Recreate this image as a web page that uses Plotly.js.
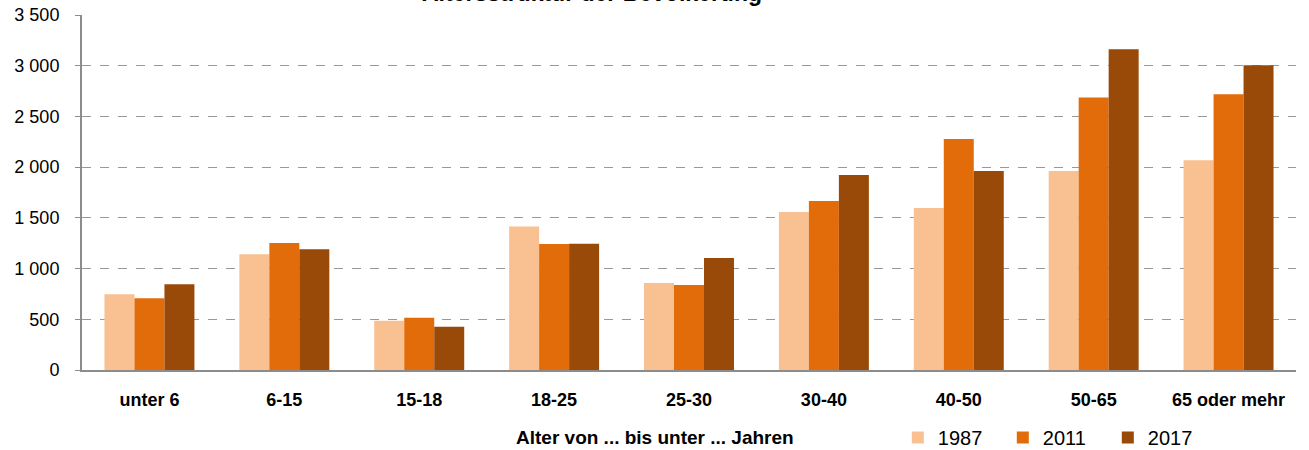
<!DOCTYPE html>
<html>
<head>
<meta charset="utf-8">
<script src="https://cdn.plot.ly/plotly-3.0.1.min.js"></script>
<style>html,body{margin:0;padding:0;background:#fff;}#chart{width:1309px;height:450px;}</style>
</head>
<body>
<div id="chart"></div>
<script>
var categories = ["unter 6", "6-15", "15-18", "18-25", "25-30", "30-40", "40-50", "50-65", "65 oder mehr"];
var years = ["1987", "2011", "2017"];
var values1987 = [746, 1141, 486, 1415, 858, 1558, 1598, 1962, 2068];
var values2011 = [707, 1252, 516, 1243, 838, 1667, 2278, 2686, 2719];
var values2017 = [845, 1190, 427, 1245, 1105, 1923, 1962, 3163, 3005];
var yTicks = [0, 500, 1000, 1500, 2000, 2500, 3000, 3500];
var colors = ["#F9C191", "#E36C0A", "#994908"];

var font = "Liberation Sans, Arial, sans-serif";
var series = [values1987, values2011, values2017];
var data = series.map(function (v, i) {
  return {
    type: "bar",
    name: years[i],
    x: categories,
    y: v,
    marker: {color: colors[i], line: {width: 0}},
    hoverinfo: "x+y+name"
  };
});

var layout = {
  width: 1309,
  height: 450,
  margin: {l: 82, r: 13, t: 15, b: 80, autoexpand: false},
  paper_bgcolor: "#fff",
  plot_bgcolor: "#fff",
  separators: ", ",
  barmode: "group",
  bargap: 0.333,
  bargroupgap: 0,
  font: {family: font, color: "#000"},
  title: {
    text: "<b>Altersstruktur der Bevölkerung</b>",
    font: {family: font, size: 23, color: "#000"},
    x: 592 / 1309,
    xanchor: "center",
    xref: "container",
    yref: "paper",
    y: 1,
    yanchor: "bottom",
    pad: {b: 14}
  },
  xaxis: {
    type: "category",
    showline: true,
    linecolor: "#8C8C8C",
    linewidth: 2,
    ticks: "",
    tickfont: {family: font, size: 18, color: "#000", weight: "bold"},
    ticklabelstandoff: 12,
    showgrid: false,
    zeroline: false,
    fixedrange: true
  },
  yaxis: {
    range: [0, 3500],
    tickvals: yTicks,
    tickformat: ",d",
    showline: true,
    linecolor: "#8C8C8C",
    linewidth: 2,
    ticks: "outside",
    ticklen: 5,
    tickcolor: "#8C8C8C",
    tickwidth: 1,
    tickfont: {family: font, size: 18, color: "#000"},
    ticklabelstandoff: 12,
    showgrid: true,
    gridcolor: "#999999",
    griddash: "dash",
    gridwidth: 1,
    zeroline: false,
    fixedrange: true
  },
  legend: {
    orientation: "h",
    x: 0.672,
    xanchor: "left",
    y: -0.19,
    yanchor: "middle",
    font: {family: font, size: 20, color: "#000"},
    entrywidth: 60,
    entrywidthmode: "pixels",
    itemwidth: 30,
    bgcolor: "rgba(0,0,0,0)",
    traceorder: "normal"
  },
  annotations: [{
    text: "<b>Alter von ... bis unter ... Jahren</b>",
    xref: "paper",
    yref: "paper",
    x: (655 - 82) / 1214,
    y: (370 - 437) / 355,
    xanchor: "center",
    yanchor: "middle",
    showarrow: false,
    font: {family: font, size: 19, color: "#000"}
  }],
  showlegend: true
};

Plotly.newPlot("chart", data, layout, {displayModeBar: false, staticPlot: true});
</script>
</body>
</html>
